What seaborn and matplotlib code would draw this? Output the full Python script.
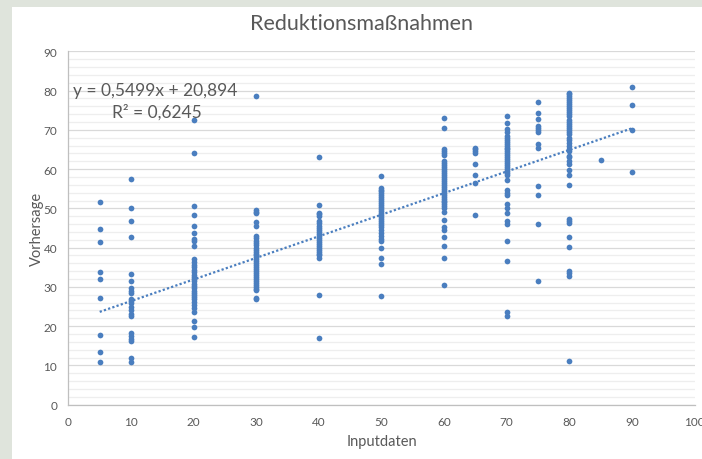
import numpy as np
import pandas as pd
import matplotlib
matplotlib.use("Agg")
import matplotlib.pyplot as plt
from matplotlib.patches import Rectangle
from matplotlib.ticker import MultipleLocator
import seaborn as sns

# Forecast values ("Vorhersage") observed at each input level ("Inputdaten")
forecast_5 = [51.5, 44.8, 41.5, 33.8, 32.0, 27.3, 17.8, 13.3, 11.0]
forecast_10 = [57.5, 50.0, 46.8, 42.8, 33.3, 31.5, 29.6, 29.0, 28.5, 26.8, 26.3,
               25.8, 25.0, 24.2, 23.2, 22.5, 18.2, 17.5, 16.8, 16.1, 12.0, 11.0]
forecast_20 = [72.4, 64.0, 50.7, 48.4, 45.6, 43.6, 42.3, 41.8, 40.3, 37.0, 36.3,
               35.5, 35.0, 34.4, 33.8, 33.0, 32.5, 32.0, 31.4, 30.8, 30.2, 29.6,
               29.0, 28.5, 28.0, 27.5, 27.0, 26.2, 25.4, 24.6, 23.5, 21.2, 19.9, 17.3]
forecast_30 = [78.5, 49.7, 49.2, 48.8, 46.6, 45.6, 42.9, 42.4, 41.8, 41.2, 40.6,
               40.0, 39.5, 39.0, 38.5, 38.0, 37.5, 37.0, 36.5, 36.0, 35.5, 35.0,
               34.5, 34.0, 33.5, 33.0, 32.5, 32.0, 31.5, 31.0, 30.5, 30.0, 29.5,
               29.1, 27.2, 26.8]
forecast_40 = [63.2, 50.9, 48.9, 48.5, 48.0, 46.7, 46.2, 45.6, 45.0, 44.5, 44.0,
               43.5, 43.0, 42.5, 42.0, 41.5, 41.0, 40.5, 40.0, 39.5, 39.0, 38.5,
               38.0, 37.4, 28.0, 17.0]
forecast_50 = [58.3, 55.3, 54.8, 54.3, 53.8, 53.3, 52.8, 52.3, 51.8, 51.3, 50.8,
               50.3, 49.8, 49.3, 48.8, 48.3, 47.8, 47.3, 46.8, 46.3, 45.8, 45.3,
               44.6, 43.8, 43.0, 42.2, 41.6, 40.0, 37.4, 35.9, 27.7]
forecast_60 = [72.9, 70.4, 65.0, 64.5, 64.0, 63.6, 62.0, 61.5, 61.0, 60.5, 60.0,
               59.5, 59.0, 58.5, 58.0, 57.5, 57.0, 56.5, 56.0, 55.5, 55.0, 54.5,
               54.0, 53.5, 53.0, 52.5, 52.0, 51.5, 51.0, 50.5, 50.1, 49.1, 47.1,
               45.3, 44.6, 42.6, 40.5, 37.4, 30.5]
forecast_65 = [65.4, 65.0, 64.6, 64.2, 61.4, 58.6, 56.5, 48.4]
forecast_70 = [73.6, 71.8, 70.1, 69.5, 68.4, 68.0, 67.5, 67.0, 66.5, 66.0, 65.5,
               65.0, 64.5, 64.0, 63.5, 63.0, 62.5, 62.0, 61.5, 61.0, 60.5, 60.0,
               59.5, 59.0, 58.6, 57.2, 54.6, 54.0, 53.4, 51.0, 50.0, 48.9, 46.7,
               45.9, 41.8, 36.7, 23.5, 22.6]
forecast_75 = [77.2, 74.2, 72.7, 71.0, 70.5, 70.0, 69.4, 66.5, 65.4, 55.8, 53.5,
               45.9, 31.6]
forecast_80 = [79.4, 79.0, 78.5, 78.0, 77.5, 77.0, 76.5, 76.0, 75.5, 75.0, 74.5,
               74.0, 73.4, 72.6, 72.0, 71.5, 71.0, 70.5, 70.0, 69.5, 69.0, 68.0,
               67.5, 66.6, 66.0, 65.0, 64.5, 63.4, 63.0, 62.0, 61.4, 59.8, 58.5,
               55.9, 47.3, 46.8, 46.4, 42.6, 40.1, 34.1, 33.5, 32.8, 11.1]
forecast_85 = [62.4]
forecast_90 = [80.8, 76.2, 69.9, 59.3]

input_levels = [5, 10, 20, 30, 40, 50, 60, 65, 70, 75, 80, 85, 90]
forecast_groups = [forecast_5, forecast_10, forecast_20, forecast_30, forecast_40,
                   forecast_50, forecast_60, forecast_65, forecast_70, forecast_75,
                   forecast_80, forecast_85, forecast_90]

# Linear trend stated on the chart
trend_slope = 0.5499
trend_intercept = 20.894
trend_r2 = 0.6245

df = pd.DataFrame({
    "Inputdaten": np.concatenate([[lvl] * len(g) for lvl, g in zip(input_levels, forecast_groups)]),
    "Vorhersage": np.concatenate(forecast_groups),
})

sns.set_style("white")
plt.rcParams["font.family"] = ["Lato", "DejaVu Sans"]

BLUE = "#4a7ebf"
TEXT = "#595959"

fig = plt.figure(figsize=(7.02, 4.60), dpi=100)
fig.patch.set_facecolor("#dfe4dc")
# white chart area inset from the left and top frame
fig.patches.append(Rectangle((12 / 702, 0), 1, (460 - 8) / 460,
                             transform=fig.transFigure, facecolor="white",
                             edgecolor="none", zorder=-10))

ax = fig.add_axes([68.4 / 702, (460 - 405.7) / 460,
                   (694.5 - 68.4) / 702, (405.7 - 52.3) / 460])
ax.set_facecolor("none")
ax.set_zorder(5)

sns.scatterplot(data=df, x="Inputdaten", y="Vorhersage", ax=ax, color=BLUE,
                s=17, linewidth=0, zorder=3)

# dotted linear trend over the data range
x_min, x_max = min(input_levels), max(input_levels)
tx = np.array([x_min, x_max])
ax.plot(tx, trend_slope * tx + trend_intercept, color=BLUE, lw=1.6,
        linestyle=(0, (1, 1)), zorder=2)

ax.set_xlim(0, 100)
ax.set_ylim(0, 90)
ax.xaxis.set_major_locator(MultipleLocator(10))
ax.yaxis.set_major_locator(MultipleLocator(10))
ax.yaxis.set_minor_locator(MultipleLocator(2))

ax.grid(axis="y", which="major", color="#d9d9d9", lw=0.9, zorder=0)
ax.grid(axis="y", which="minor", color="#eeeeee", lw=0.9, zorder=0)
ax.grid(axis="x", which="both", visible=False)
ax.set_axisbelow(True)

for side in ["top", "right"]:
    ax.spines[side].set_visible(False)
for side in ["left", "bottom"]:
    ax.spines[side].set_color("#bfbfbf")
    ax.spines[side].set_linewidth(0.9)

ax.tick_params(axis="both", which="major", direction="out", length=5, width=0.9,
               color="#bfbfbf", labelsize=8.5, labelcolor=TEXT, pad=3)
ax.tick_params(axis="y", which="minor", length=0)

ax.set_xlabel("Inputdaten", fontsize=10.5, color=TEXT, labelpad=5)
ax.set_ylabel("Vorhersage", fontsize=10.5, color=TEXT, labelpad=0)

fig.text(361 / 702, 1 - 24 / 460, "Reduktionsmaßnahmen", ha="center", va="center",
         fontsize=15.5, color=TEXT)

eq = f"y = {trend_slope:.4f}x + {trend_intercept:.3f}".replace(".", ",")
r2 = f"R² = {trend_r2:.4f}".replace(".", ",")
ax.text(0.8, 80.2, eq, fontsize=12.5, color=TEXT, ha="left", va="center")
ax.text(7.0, 74.6, r2, fontsize=12.5, color=TEXT, ha="left", va="center")

fig.savefig("out.png", dpi=100, facecolor=fig.get_facecolor())
